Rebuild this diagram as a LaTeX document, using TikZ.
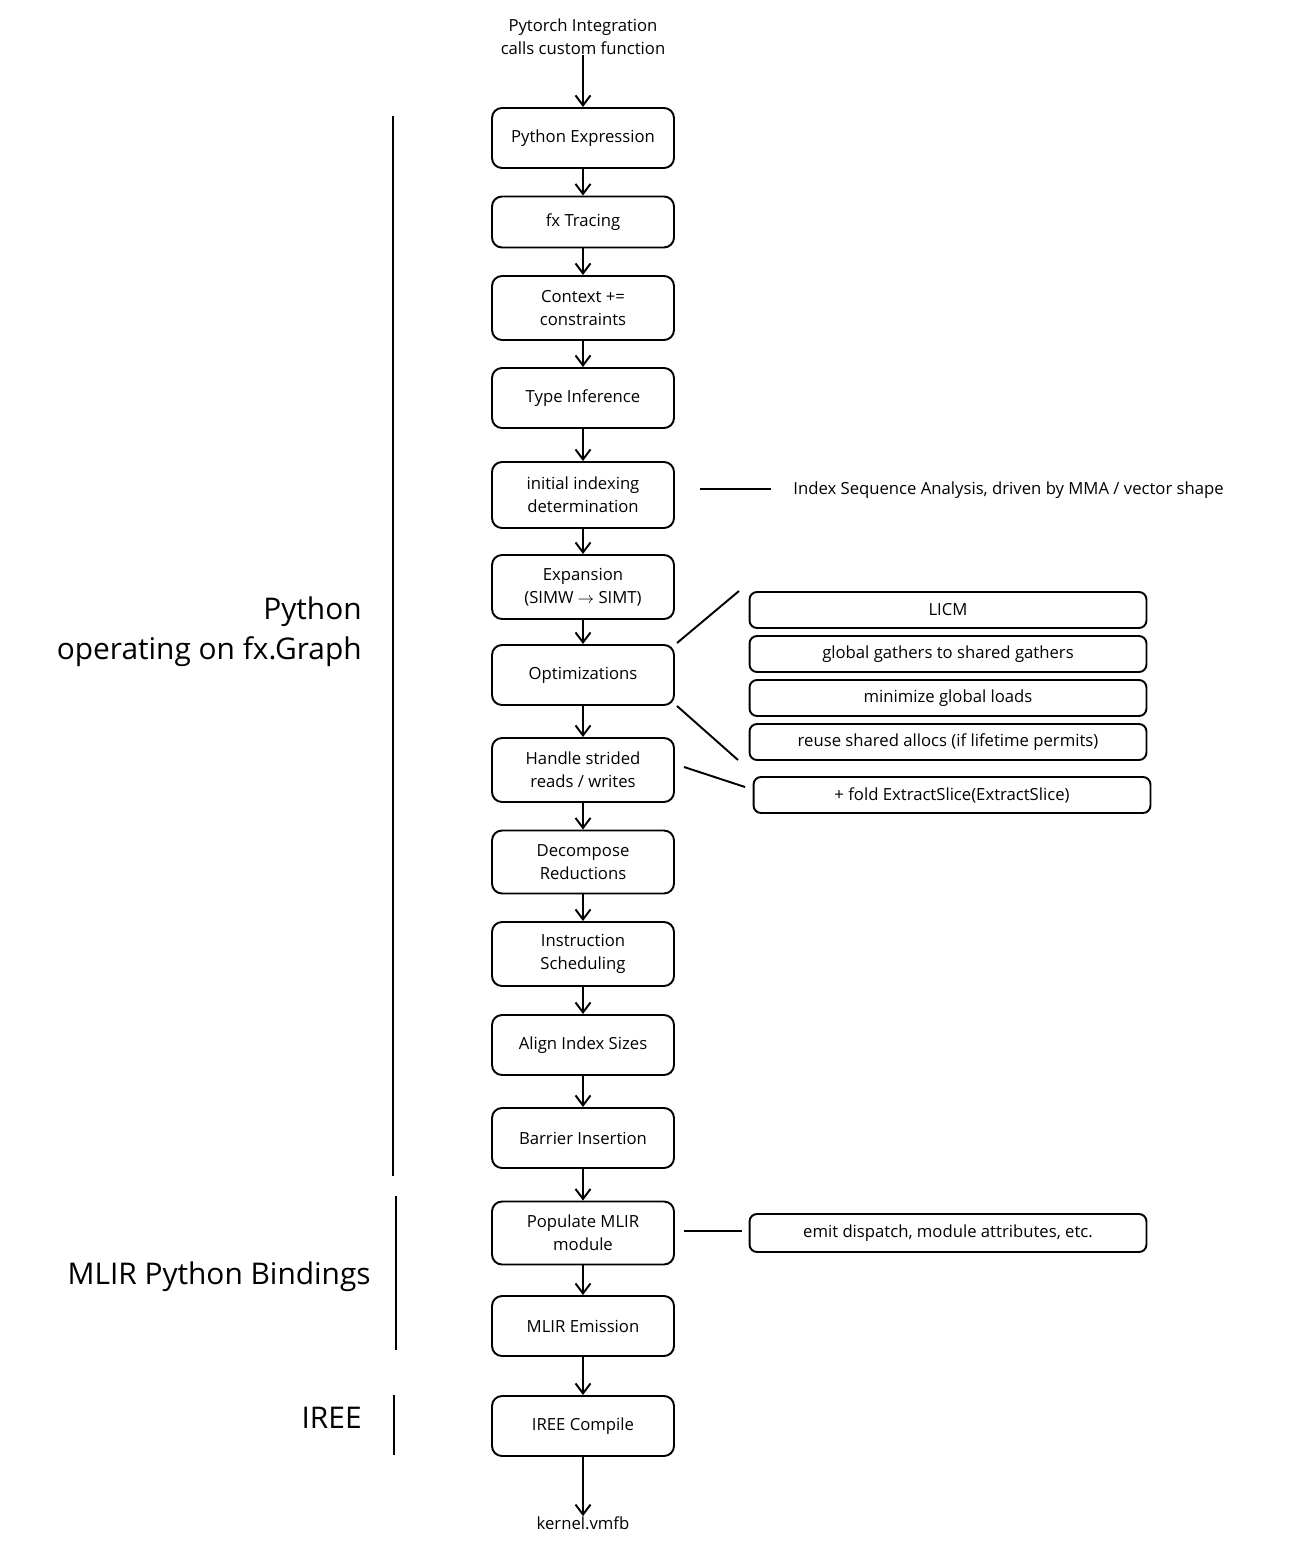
\documentclass[tikz,border=0pt]{standalone}
\usepackage{fontspec}
\setmainfont{Open Sans}
\usetikzlibrary{arrows.meta,positioning}
\begin{document}
\begin{tikzpicture}[x=0.02cm,y=-0.02cm]
\tikzstyle{pass}=[rectangle, rounded corners=2mm, draw=black, line width=1.1pt, minimum width=3.64cm, align=center, font=\fontsize{9.5}{13}\selectfont, inner sep=0pt]
\tikzstyle{note}=[rectangle, rounded corners=1.5mm, draw=black, line width=1.1pt, minimum width=7.94cm, minimum height=0.72cm, font=\fontsize{9.5}{13}\selectfont, inner sep=0pt]
\tikzstyle{plain}=[align=center, font=\fontsize{9.5}{13}\selectfont, inner sep=0pt]
\tikzstyle{stage}=[align=right, anchor=east, font=\fontsize{17}{23}\selectfont, inner sep=0pt]
\tikzstyle{connect}=[-{Straight Barb[length=2mm,width=3mm]}, line width=1.1pt]
\tikzstyle{link}=[line width=1.1pt]
\useasboundingbox (0,0) rectangle (1306,1547);
	\node[plain] (top) at (583,37) {Pytorch Integration\\calls custom function};
	\node[pass, minimum height=1.2cm] (pyexpr) at (583,138) {Python Expression};
	\node[pass, minimum height=1.02cm] (fxtrace) at (583,222) {fx Tracing};
	\node[pass, minimum height=1.28cm] (context) at (583,308) {Context +=\\constraints};
	\node[pass, minimum height=1.2cm] (typeinf) at (583,398) {Type Inference};
	\node[pass, minimum height=1.32cm] (indexing) at (583,495) {initial indexing\\determination};
	\node[pass, minimum height=1.28cm] (expand) at (583,587) {Expansion\\(SIMW $\rightarrow$ SIMT)};
	\node[pass, minimum height=1.2cm] (optim) at (583,675) {Optimizations};
	\node[pass, minimum height=1.28cm] (strided) at (583,770) {Handle strided\\reads / writes};
	\node[pass, minimum height=1.26cm] (decomp) at (583,862) {Decompose\\Reductions};
	\node[pass, minimum height=1.28cm] (sched) at (583,954) {Instruction\\Scheduling};
	\node[pass, minimum height=1.2cm] (align) at (583,1045) {Align Index Sizes};
	\node[pass, minimum height=1.2cm] (barrier) at (583,1138) {Barrier Insertion};
	\node[pass, minimum height=1.26cm] (populate) at (583,1233) {Populate MLIR\\module};
	\node[pass, minimum height=1.2cm] (emission) at (583,1326) {MLIR Emission};
	\node[pass, minimum height=1.2cm] (ireecomp) at (583,1426) {IREE Compile};
	\node[plain] (vmfb) at (583,1523) {kernel.vmfb};

	\node[note] (licm) at (948,610) {LICM};
	\node[note] (gathers) at (948,654) {global gathers to shared gathers};
	\node[note] (loads) at (948,698) {minimize global loads};
	\node[note] (reuse) at (948,742) {reuse shared allocs (if lifetime permits)};
	\node[note] (fold) at (952,795) {+ fold ExtractSlice(ExtractSlice)};
	\node[note, minimum height=0.76cm] (emit) at (948,1233) {emit dispatch, module attributes, etc.};
	\node[plain, anchor=west] (isa) at (793,490) {Index Sequence Analysis, driven by MMA / vector shape};

	\node[stage] (pylabel) at (362,632) {Python\\operating on fx.Graph};
	\node[stage] (mlirlabel) at (371,1277) {MLIR Python Bindings};
	\node[stage] (ireelabel) at (362,1418) {IREE};

	\coordinate (isa_l) at (700,489);
	\coordinate (isa_r) at (771,489);
	\coordinate (opt_a) at (677,643);
	\coordinate (opt_b) at (739,591);
	\coordinate (opt_c) at (677,706);
	\coordinate (opt_d) at (738,760);
	\coordinate (str_a) at (684,767);
	\coordinate (str_b) at (745,787);
	\coordinate (pop_a) at (684,1231);
	\coordinate (pop_b) at (742,1231);

	\draw[connect] (top) -- (pyexpr);
	\foreach \a/\b in {pyexpr/fxtrace, fxtrace/context, context/typeinf, typeinf/indexing, indexing/expand, expand/optim, optim/strided, strided/decomp, decomp/sched, sched/align, align/barrier, barrier/populate, populate/emission, emission/ireecomp, ireecomp/vmfb}
		\draw[connect] (\a) -- (\b);

	\draw[link] (isa_l) -- (isa_r);
	\draw[link] (opt_a) -- (opt_b);
	\draw[link] (opt_c) -- (opt_d);
	\draw[link] (str_a) -- (str_b);
	\draw[link] (pop_a) -- (pop_b);

	\draw[link] (393,116) -- (393,1176);
	\draw[link] (396,1196) -- (396,1350);
	\draw[link] (394,1395) -- (394,1455);
\end{tikzpicture}
\end{document}
